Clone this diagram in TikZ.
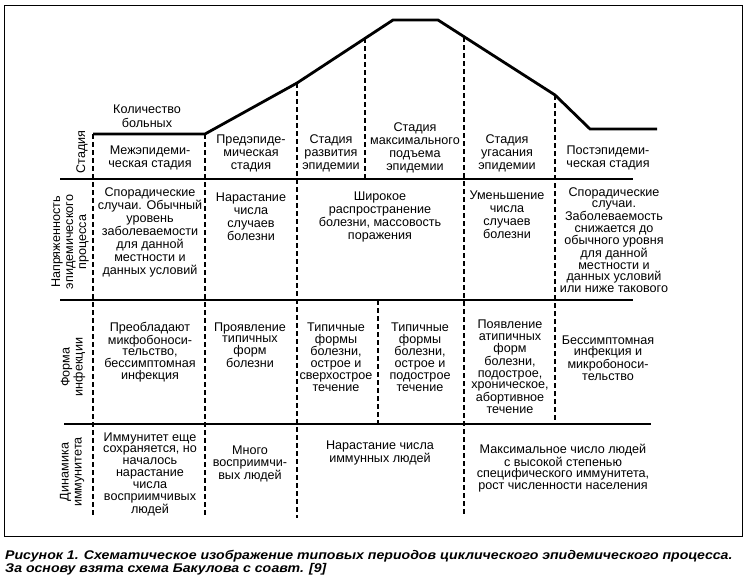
\documentclass[tikz,border=0pt]{standalone}
\usepackage{fontspec}
\setmainfont{Liberation Sans}
\newfontfamily\capfont{Liberation Sans}[FakeStretch=1.12]
\usetikzlibrary{positioning}

\tikzset{
  cell/.style={align=center, inner sep=0pt},
  tight/.style={cell, font=\fontsize{12.6}{11.8}\selectfont},
  rowlabel/.style={cell, rotate=90},
  curve/.style={line width=2.8pt, line join=miter},
  rule/.style={line width=2.8pt},
  divider/.style={line width=2.8pt, dash pattern=on 4.5pt off 3.5pt},
  frame/.style={line width=0.9pt},
  caption/.style={anchor=north west, align=left, inner sep=0pt,
    font=\capfont\fontsize{12.6}{13}\selectfont\bfseries\itshape}
}

\begin{document}
\begin{tikzpicture}[x=1pt, y=-1pt, font=\fontsize{12.6}{13}\selectfont]

  \useasboundingbox (0,0) rectangle (749,582);
  \draw[frame] (4,5) rectangle (742,536);

  \coordinate (p1) at (93,134);
  \coordinate (p2) at (205,134);
  \coordinate (p3) at (297,83);
  \coordinate (p4) at (393,20);
  \coordinate (p5) at (438,20);
  \coordinate (p6) at (555,95);
  \coordinate (p7) at (590,129);
  \coordinate (p8) at (657,129);
  \draw[curve] (p1) -- (p2) -- (p3) -- (p4) -- (p5) -- (p6) -- (p7) -- (p8);

  \draw[rule] (60,179) -- (633,179);
  \draw[rule] (60,300) -- (633,300);
  \draw[rule] (64,424) -- (651,424);

  \draw[divider] (p1) -- (93,518);
  \draw[divider] (p2) -- (205,518);
  \draw[divider] (p3) -- (297,518);
  \draw[divider] (365,38) -- (365,179);
  \draw[divider] (378,300) -- (378,424);
  \draw[divider] (464,37) -- (464,516);
  \draw[divider] (p6) -- (555,424);

  \node[cell, font=\fontsize{12.6}{14.5}\selectfont] (count) at (147,116) {Количество\\больных};

  \node[rowlabel] (lstage) at (82,152) {Стадия};
  \node[rowlabel] (lstrain) at (70,242) {Напряженность\\эпидемического\\процесса};
  \node[rowlabel] (lform) at (73,367) {Форма\\инфекции};
  \node[rowlabel] (limmun) at (72,472) {Динамика\\иммунитета};

  \node[cell] (inter) at (150,158) {Межэпидеми-\\ческая стадия};
  \node[cell] (pre) at (251,153) {Предэпиде-\\мическая\\стадия};
  \node[cell] (rise) at (331,153) {Стадия\\развития\\эпидемии};
  \node[cell] (peak) at (415,148) {Стадия\\максимального\\подъема\\эпидемии};
  \node[cell] (fade) at (507,153) {Стадия\\угасания\\эпидемии};
  \node[cell] (post) at (608,158) {Постэпидеми-\\ческая стадия};

  \node[cell] (strain1) at (150,232) {Спорадические\\случаи. Обычный\\уровень\\заболеваемости\\для данной\\местности и\\данных условий};
  \node[cell] (strain2) at (251,217) {Нарастание\\числа\\случаев\\болезни};
  \node[cell] (strain3) at (380,217) {Широкое\\распространение\\болезни, массовость\\поражения};
  \node[cell] (strain4) at (507,215) {Уменьшение\\числа\\случаев\\болезни};
  \node[tight] (strain5) at (614,240) {Спорадические\\случаи.\\Заболеваемость\\снижается до\\обычного уровня\\для данной\\местности и\\данных условий\\или ниже такового};

  \node[tight] (form1) at (150,352) {Преобладают\\микфобоноси-\\тельство,\\бессимптомная\\инфекция};
  \node[tight] (form2) at (250,345) {Проявление\\типичных\\форм\\болезни};
  \node[tight] (form3) at (336,357) {Типичные\\формы\\болезни,\\острое и\\сверхострое\\течение};
  \node[tight] (form4) at (420,357) {Типичные\\формы\\болезни,\\острое и\\подострое\\течение};
  \node[tight] (form5) at (510,367) {Появление\\атипичных\\форм\\болезни,\\подострое,\\хроническое,\\абортивное\\течение};
  \node[tight] (form6) at (608,358) {Бессимптомная\\инфекция и\\микробоноси-\\тельство};

  \node[tight] (immun1) at (150,474) {Иммунитет еще\\сохраняется, но\\началось\\нарастание\\числа\\восприимчивых\\людей};
  \node[tight] (immun2) at (250,464) {Много\\восприимчи-\\вых людей};
  \node[cell] (immun3) at (380,453) {Нарастание числа\\иммунных людей};
  \node[tight] (immun4) at (563,468) {Максимальное число людей\\с высокой степенью\\специфического иммунитета,\\рост численности населения};

  \node[caption] (figcap) at (5,550) {Рисунок 1. Схематическое изображение типовых периодов циклического эпидемического процесса.\\За основу взята схема Бакулова с соавт. [9]};

\end{tikzpicture}
\end{document}
